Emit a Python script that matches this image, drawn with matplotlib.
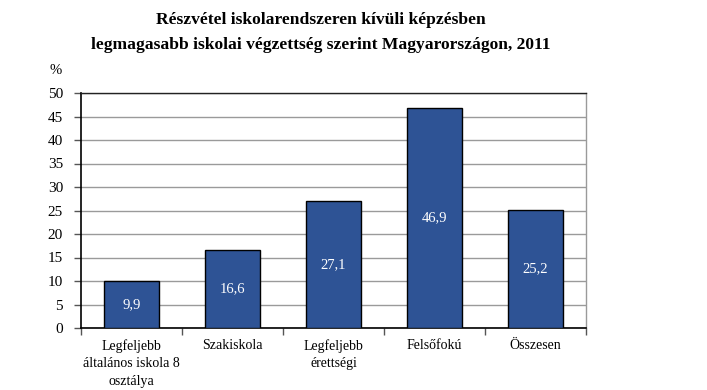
import matplotlib
matplotlib.use("Agg")
import matplotlib.pyplot as plt

categories = ["Legfeljebb\náltalános iskola 8\nosztálya", "Szakiskola", "Legfeljebb\nérettségi", "Felsőfokú", "Összesen"]
values = [9.9, 16.6, 27.1, 46.9, 25.2]
value_labels = ["9,9", "16,6", "27,1", "46,9", "25,2"]
yticks = [0, 5, 10, 15, 20, 25, 30, 35, 40, 45, 50]

plt.rcParams['font.family'] = ['Liberation Serif', 'DejaVu Serif']

fig = plt.figure(figsize=(7.07, 3.90), dpi=100)
ax = fig.add_axes([81/707, 1-328/390, (586-81)/707, (328-93)/390])

x = list(range(len(categories)))
ax.bar(x, values, width=0.55, color="#2E5395", edgecolor="black", linewidth=1.0, zorder=3)
for xi, v, lab in zip(x, values, value_labels):
    ax.text(xi, v/2, lab, ha="center", va="center", color="white", fontsize=10.5, zorder=4)

ax.set_xlim(-0.5, len(categories)-0.5)
ax.set_ylim(0, 50)
ax.set_yticks(yticks)
ax.set_yticklabels([str(t) for t in yticks], fontsize=11)
ax.yaxis.grid(True, color="#9a9a9a", linewidth=1.0, zorder=0)
ax.set_axisbelow(True)

ax.set_xticks([i - 0.5 for i in range(len(categories)+1)])
ax.set_xticklabels([])
ax.set_xticks(x, minor=True)
ax.set_xticklabels(categories, minor=True, fontsize=10, linespacing=1.45)
ax.tick_params(axis="x", which="major", direction="out", length=5, width=1, color="#555555")
ax.tick_params(axis="x", which="minor", length=0, pad=8)
ax.tick_params(axis="y", direction="out", length=5, width=1, color="#555555", pad=8)

for s in ["left", "bottom"]:
    ax.spines[s].set_color("black")
    ax.spines[s].set_linewidth(1.2)
ax.spines["top"].set_color("#222222")
ax.spines["top"].set_linewidth(1.0)
ax.spines["right"].set_color("#9a9a9a")
ax.spines["right"].set_linewidth(1.0)

fig.text(56/707, 1-71/390, "%", ha="center", va="center", fontsize=10.5)
fig.text(321/707, 1-20/390, "Részvétel iskolarendszeren kívüli képzésben", ha="center", va="center", fontsize=12.6, fontweight="bold")
fig.text(321/707, 1-45/390, "legmagasabb iskolai végzettség szerint Magyarországon, 2011", ha="center", va="center", fontsize=12.6, fontweight="bold")

fig.savefig("out.png", dpi=100)
